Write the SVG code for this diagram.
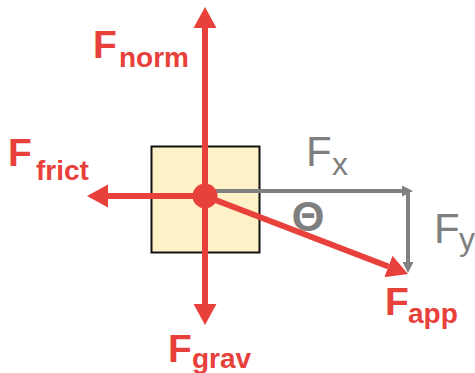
<svg xmlns="http://www.w3.org/2000/svg" width="475" height="373" viewBox="0 0 475 373">
  <defs>
    <style>
      .red { stroke: #E8403A; stroke-width: 6; fill: none; }
      .gray { stroke: #808080; stroke-width: 4; fill: none; }
      .lbl { font-family: "Liberation Sans", Arial, sans-serif; font-weight: bold; fill: #E8403A; }
      .big { font-size: 39px; }
      .sub { font-size: 28px; }
      .glbl { font-family: "Liberation Sans", Arial, sans-serif; fill: #7F7F7F; }
    </style>
    <marker id="redHead" markerUnits="userSpaceOnUse" markerWidth="22" markerHeight="24" refX="0" refY="11.5" orient="auto" viewBox="0 0 22 23">
      <path d="M0,0 L21,11.5 L0,23 Z" fill="#E8403A"/>
    </marker>
    <marker id="grayHead" markerUnits="userSpaceOnUse" markerWidth="12" markerHeight="12" refX="0" refY="5.5" orient="auto" viewBox="0 0 12 11">
      <path d="M0,0 L11,5.5 L0,11 Z" fill="#808080"/>
    </marker>
  </defs>
  <rect width="475" height="373" fill="#FFFFFF"/>

  <g id="block">
    <rect x="151.5" y="146.5" width="108" height="106" fill="#FDF1C8" stroke="#111111" stroke-width="2"/>
  </g>

  <g id="connectors">
    <line class="gray" x1="205" y1="191" x2="402" y2="191" marker-end="url(#grayHead)"/>
    <line class="gray" x1="408" y1="191" x2="408" y2="262" marker-end="url(#grayHead)"/>
    <line class="red" x1="205" y1="196" x2="205" y2="28" marker-end="url(#redHead)"/>
    <line class="red" x1="205" y1="196" x2="205" y2="304" marker-end="url(#redHead)"/>
    <line class="red" x1="205" y1="196" x2="108" y2="196" marker-end="url(#redHead)"/>
    <line class="red" x1="205" y1="196" x2="388.4" y2="266.5" marker-end="url(#redHead)"/>
  </g>

  <g id="origin">
    <circle cx="205" cy="196" r="12.5" fill="#E8403A"/>
  </g>

  <g id="label-norm">
    <text class="lbl big" x="93" y="58">F</text>
    <text class="lbl sub" x="119" y="67">norm</text>
  </g>
  <g id="label-frict">
    <text class="lbl big" x="8" y="166">F</text>
    <text class="lbl sub" x="36" y="180">frict</text>
  </g>
  <g id="label-grav">
    <text class="lbl big" x="168" y="362">F</text>
    <text class="lbl sub" x="192" y="368">grav</text>
  </g>
  <g id="label-app">
    <text class="lbl big" x="385" y="315">F</text>
    <text class="lbl sub" x="408" y="323">app</text>
  </g>
  <g id="label-fx">
    <text class="glbl" x="306" y="166" font-size="42">F</text>
    <text class="glbl" x="332" y="175" font-size="32">x</text>
  </g>
  <g id="label-fy">
    <text class="glbl" x="434" y="243" font-size="42">F</text>
    <text class="glbl" x="459" y="250" font-size="32">y</text>
  </g>
  <g id="label-theta">
    <text class="glbl" x="308" y="231" font-size="42" font-weight="bold" text-anchor="middle">Θ</text>
  </g>
</svg>
